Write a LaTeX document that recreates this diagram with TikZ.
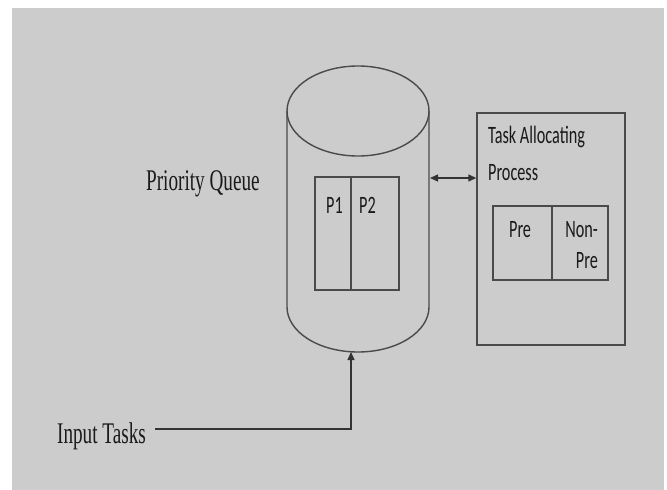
\documentclass[tikz,border=0pt]{standalone}
\usepackage{fontspec}
\setmainfont{Liberation Serif}
\newfontfamily\calfont{Carlito}
\usetikzlibrary{arrows.meta}
\definecolor{bggray}{HTML}{CCCCCC}
\definecolor{lncol}{HTML}{4A4A4A}
\definecolor{txtcol}{HTML}{1A1A1A}
\tikzset{
  ln/.style={draw=lncol, line width=1.4pt},
  conn/.style={draw=black!80, line width=1.4pt},
  tip/.style={-{Triangle[length=8pt,width=7pt]}},
  seriflabel/.style={font=\fontsize{30}{34}\selectfont, text=txtcol, inner sep=0pt, xscale=0.64},
  sanslabel/.style={font=\calfont\fontsize{25}{30}\selectfont, text=txtcol, inner sep=0pt, xscale=0.65},
  cell/.style={ln, line width=1.6pt, inner sep=0pt}
}
\begin{document}
\begin{tikzpicture}[x=1pt,y=-1pt]
\useasboundingbox (0,0) rectangle (667,490);
\fill[white] (0,0) rectangle (667,490);
\fill[bggray] (12,8) rectangle (664,490);
% cylinder
\draw[ln] (287,111) -- (287,307) arc[start angle=180, end angle=360, x radius=71pt, y radius=45pt] -- (429,111);
\draw[ln] (358,111) ellipse [x radius=71pt, y radius=45pt];
\coordinate (cylR) at (430,178);
\coordinate (cylB) at (351,352);
% inner P1/P2 box
\node[cell, minimum width=36pt, minimum height=113pt] (p1box) at (333,233.5) {};
\node[cell, minimum width=48pt, minimum height=113pt] (p2box) at (375,233.5) {};
\node[sanslabel, anchor=base west] (p1) at (326,213) {P1};
\node[sanslabel, anchor=base west] (p2) at (359,213) {P2};
% labels
\node[seriflabel, anchor=base west] (pq) at (146,190) {Priority Queue};
\node[seriflabel, anchor=base west] (input) at (57,443) {Input Tasks};
% task allocating process box
\node[ln, minimum width=148pt, minimum height=232pt, inner sep=0pt] (task) at (551,229) {};
\node[sanslabel, anchor=base west] (tasktxt1) at (488,143) {Task Allocating};
\node[sanslabel, anchor=base west] (tasktxt2) at (488,180) {Process};
\node[cell, minimum width=59pt, minimum height=74pt] (prebox) at (522.5,243) {};
\node[cell, minimum width=56pt, minimum height=74pt] (nonbox) at (580,243) {};
\node[sanslabel, anchor=base west] (pre) at (509,237) {Pre};
\node[sanslabel, anchor=base east] (non1) at (598,237) {Non-};
\node[sanslabel, anchor=base east] (non2) at (598,268) {Pre};
% connectors
\coordinate (inStart) at (155,429);
\draw[conn, {Triangle[length=8pt,width=7pt]}-{Triangle[length=8pt,width=7pt]}] (cylR) -- (task.west |- cylR);
\draw[conn, tip] (inStart) -| (cylB);
\end{tikzpicture}
\end{document}
